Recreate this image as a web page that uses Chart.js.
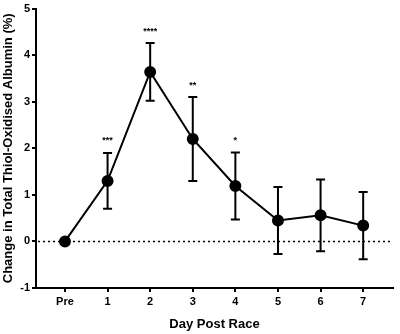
<!DOCTYPE html>
<html>
<head>
<meta charset="utf-8">
<script src="https://cdn.jsdelivr.net/npm/chart.js@4/dist/chart.umd.min.js"></script>
<style>
  html, body { margin: 0; padding: 0; background: #fff; }
  #wrap { width: 400px; height: 334px; }
</style>
</head>
<body>
<div id="wrap"><canvas id="chart"></canvas></div>
<script>
// values
const days = ["Pre", "1", "2", "3", "4", "5", "6", "7"];
const means = [0, 1.30, 3.64, 2.20, 1.19, 0.45, 0.56, 0.34];
const errors = [0, 0.60, 0.62, 0.90, 0.72, 0.72, 0.77, 0.72];
const stars = ["", "***", "****", "**", "*", "", "", ""];
const yTicks = [-1, 0, 1, 2, 3, 4, 5];

const FONT = "'Liberation Sans', Arial, Helvetica, sans-serif";

// error bars, significance stars and the dotted zero line
const extras = {
  id: "extras",
  beforeDatasetsDraw(chart) {
    const { ctx, chartArea, scales } = chart;
    const y0 = scales.y.getPixelForValue(0);
    ctx.save();
    ctx.strokeStyle = "#000";
    ctx.lineWidth = 1.6;
    ctx.setLineDash([2, 3]);
    ctx.beginPath();
    ctx.moveTo(chartArea.left + 2, y0);
    ctx.lineTo(chartArea.right, y0);
    ctx.stroke();
    ctx.setLineDash([]);

    ctx.lineWidth = 2;
    means.forEach((m, i) => {
      if (!errors[i]) return;
      const x = scales.x.getPixelForValue(i);
      const top = scales.y.getPixelForValue(m + errors[i]);
      const bot = scales.y.getPixelForValue(m - errors[i]);
      ctx.beginPath();
      ctx.moveTo(x, top);
      ctx.lineTo(x, bot);
      ctx.moveTo(x - 4.5, top);
      ctx.lineTo(x + 4.5, top);
      ctx.moveTo(x - 4.5, bot);
      ctx.lineTo(x + 4.5, bot);
      ctx.stroke();
    });

    ctx.fillStyle = "#000";
    ctx.font = "bold 9px " + FONT;
    ctx.textAlign = "center";
    ctx.textBaseline = "middle";
    stars.forEach((s, i) => {
      if (!s) return;
      const x = scales.x.getPixelForValue(i);
      const top = scales.y.getPixelForValue(means[i] + errors[i]);
      ctx.fillText(s, x, top - 12);
    });
    ctx.restore();
  }
};

new Chart(document.getElementById("chart"), {
  type: "line",
  data: {
    datasets: [{
      data: means.map((m, i) => ({ x: i, y: m })),
      borderColor: "#000",
      borderWidth: 2,
      backgroundColor: "#000",
      pointRadius: 5,
      pointHoverRadius: 5,
      tension: 0
    }]
  },
  options: {
    responsive: true,
    maintainAspectRatio: false,
    animation: false,
    layout: { padding: { top: 5, right: 4, left: 0, bottom: 0 } },
    plugins: { legend: { display: false }, tooltip: { enabled: false } },
    scales: {
      x: {
        type: "linear",
        min: -0.68,
        max: 7.7,
        afterBuildTicks: (s) => { s.ticks = days.map((_, i) => ({ value: i })); },
        afterFit: (s) => { s.height = 46; },
        border: { display: true, color: "#000", width: 2 },
        grid: { drawOnChartArea: false, drawTicks: true, tickLength: 4, color: "#000", lineWidth: 2 },
        ticks: {
          color: "#000",
          padding: 3,
          font: { family: FONT, size: 11, weight: "bold" },
          callback: (v) => days[v]
        },
        title: {
          display: true,
          text: "Day Post Race",
          color: "#000",
          padding: { top: 4, bottom: 2 },
          font: { family: FONT, size: 13, weight: "bold" }
        }
      },
      y: {
        min: -1,
        max: 5,
        afterBuildTicks: (s) => { s.ticks = yTicks.map(v => ({ value: v })); },
        afterFit: (s) => { s.width = 36; },
        border: { display: true, color: "#000", width: 2 },
        grid: { drawOnChartArea: false, drawTicks: true, tickLength: 4, color: "#000", lineWidth: 2 },
        ticks: {
          color: "#000",
          padding: 2,
          font: { family: FONT, size: 11, weight: "bold" }
        },
        title: {
          display: true,
          text: "Change in Total Thiol-Oxidised Albumin (%)",
          color: "#000",
          padding: { top: 1, bottom: 2 },
          font: { family: FONT, size: 13, weight: "bold" }
        }
      }
    }
  },
  plugins: [extras]
});
</script>
</body>
</html>
